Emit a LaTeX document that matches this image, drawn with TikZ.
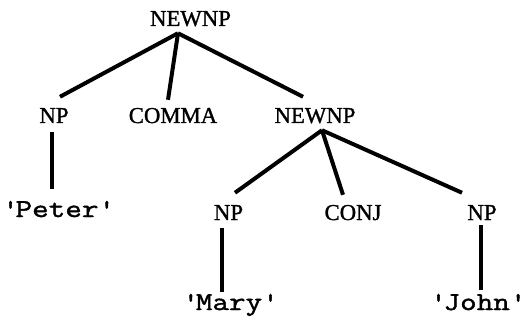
\documentclass[tikz,border=0pt]{standalone}
\usepackage{fontspec}
\newfontfamily\catfont{Liberation Serif}[FakeBold=1.2]
\newfontfamily\wordfont{Latin Modern Mono}[FakeStretch=1.25, FakeBold=1.6]

\tikzset{
    cat/.style={font=\catfont\fontsize{19.4}{20}\selectfont, inner sep=0pt, anchor=base,
        text height=0.45cm, text depth=0pt},
    word/.style={font=\wordfont\fontsize{22}{23}\selectfont, inner sep=0pt, anchor=base,
        text height=0.45cm, text depth=0pt},
    branch/.style={line width=3.4pt}
}

\begin{document}
\begin{tikzpicture}

        \useasboundingbox (0, 0) rectangle (15.81, 9.69);

        % Radice e primo livello
        \node[cat] (top) at (5.715, 8.91) {NEWNP};
        \node[cat] (np1) at (1.62, 6.00) {NP};
        \node[cat] (comma) at (5.19, 6.00) {COMMA};
        \node[cat] (newnp) at (9.45, 6.00) {NEWNP};

        % Secondo livello
        \node[cat] (np2) at (6.855, 3.09) {NP};
        \node[cat] (conj) at (10.59, 3.09) {CONJ};
        \node[cat] (np3) at (14.46, 3.09) {NP};

        % Foglie
        \node[word] (peter) at (1.71, 3.18) {\textquotesingle Peter\textquotesingle};
        \node[word] (mary) at (6.87, 0.39) {\textquotesingle Mary\textquotesingle};
        \node[word] (john) at (14.30, 0.39) {\textquotesingle John\textquotesingle};

        % Rami della radice
        \draw[branch] ([shift={(-0.375,-0.21)}]top.south) -- ([shift={(0.18,0.33)}]np1.north);
        \draw[branch] ([shift={(-0.375,-0.21)}]top.south) -- ([shift={(-0.15,0.24)}]comma.north);
        \draw[branch] ([shift={(-0.375,-0.21)}]top.south) -- ([shift={(-0.36,0.33)}]newnp.north);

        % Rami del secondo NEWNP
        \draw[branch] ([shift={(0.21,-0.21)}]newnp.south) -- ([shift={(0.195,0.36)}]np2.north);
        \draw[branch] ([shift={(0.21,-0.21)}]newnp.south) -- ([shift={(-0.3,0.3)}]conj.north);
        \draw[branch] ([shift={(0.21,-0.21)}]newnp.south) -- ([shift={(-0.6,0.36)}]np3.north);

        % Rami verso le parole
        \draw[branch] ([shift={(-0.06,-0.27)}]np1.south) -- ([shift={(-0.15,0.39)}]peter.north);
        \draw[branch] ([shift={(-0.195,-0.24)}]np2.south) -- ([shift={(-0.21,0.09)}]mary.north);
        \draw[branch] ([shift={(-0.03,-0.15)}]np3.south) -- ([shift={(0.13,0.15)}]john.north);

    \end{tikzpicture}
\end{document}
